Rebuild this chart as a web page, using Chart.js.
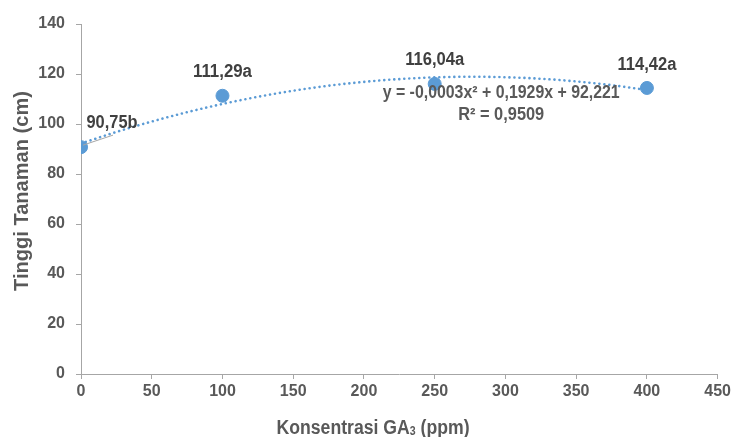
<!DOCTYPE html>
<html>
<head>
<meta charset="utf-8">
<script src="https://cdn.jsdelivr.net/npm/chart.js@4/dist/chart.umd.min.js"></script>
<style>
html,body{margin:0;padding:0;background:#fff;}
#wrap{width:734px;height:437px;position:relative;}
</style>
</head>
<body>
<div id="wrap"><canvas id="c" width="734" height="437"></canvas></div>
<script>
// Data
const concentrations = [0, 100, 250, 400];
const heights = [90.75, 111.29, 116.04, 114.42];
const pointLabels = ["90,75b", "111,29a", "116,04a", "114,42a"];
const trendX = [0,25,50,75,100,125,150,175,200,225,250,275,300,325,350,375,400];
const trendY = [92.22,96.82,100.99,104.73,108.02,110.88,113.31,115.30,116.85,117.97,118.65,118.90,118.71,118.09,117.03,115.53,113.60];
const xTicks = [0,50,100,150,200,250,300,350,400,450];
const yTicks = [0,20,40,60,80,100,120,140];
const equationText = "y = -0,0003x\u00B2 + 0,1929x + 92,221";
const r2Text = "R\u00B2 = 0,9509";
const yTitle = "Tinggi Tanaman (cm)";
const xTitleMain = "Konsentrasi GA";
const xTitleSub = "3";
const xTitleEnd = " (ppm)";

const FONT = '"Liberation Sans", Arial, sans-serif';
const AXIS_COLOR = '#a6a6a6';
const TEXT_COLOR = '#595959';
const BLUE = '#5b9bd5';

const labelOffsets = [[31,-24],[0,-24],[0,-23.5],[0,-23]];

// draw text horizontally compressed to a target width, centred at (cx, cy)
function fitText(ctx, text, cx, cy, px, targetW) {
  ctx.save();
  ctx.font = 'bold ' + px + 'px ' + FONT;
  const w = ctx.measureText(text).width;
  const s = targetW / w;
  ctx.translate(cx, cy);
  ctx.scale(s, 1);
  ctx.textAlign = 'center';
  ctx.textBaseline = 'middle';
  ctx.fillText(text, 0, 0);
  ctx.restore();
}

const overlay = {
  id: 'overlay',
  afterDatasetsDraw(chart) {
    const ctx = chart.ctx;
    const xs = chart.scales.x, ys = chart.scales.y;
    ctx.save();
    concentrations.forEach((c, i) => {
      const px = xs.getPixelForValue(c), py = ys.getPixelForValue(heights[i]);
      const [dx, dy] = labelOffsets[i];
      if (i === 0) {
        ctx.strokeStyle = '#a6a6a6';
        ctx.lineWidth = 1;
        ctx.beginPath();
        ctx.moveTo(px + 2, py - 2);
        ctx.lineTo(px + 32, py - 12);
        ctx.stroke();
      }
      ctx.fillStyle = '#404040';
      fitText(ctx, pointLabels[i], px + dx, py + dy, 18, pointLabels[i].length === 6 ? 51 : 59);
    });
    ctx.fillStyle = TEXT_COLOR;
    const ex = xs.getPixelForValue(297), ey = ys.getPixelForValue(112.2);
    fitText(ctx, equationText, ex, ey, 18, 237);
    fitText(ctx, r2Text, ex, ey + 22, 18, 86);
    ctx.restore();
  },
  afterDraw(chart) {
    const ctx = chart.ctx;
    ctx.save();
    ctx.fillStyle = TEXT_COLOR;
    // y title
    ctx.save();
    ctx.translate(22, 191);
    ctx.rotate(-Math.PI / 2);
    fitText(ctx, yTitle, 0, 0, 20, 200);
    ctx.restore();
    // x title with subscript (compressed)
    const big = 'bold 20px ' + FONT, small = 'bold 12px ' + FONT;
    ctx.font = big; const w1 = ctx.measureText(xTitleMain).width; const w3 = ctx.measureText(xTitleEnd).width;
    ctx.font = small; const w2 = ctx.measureText(xTitleSub).width;
    const total = w1 + w2 + w3;
    const s = 193 / total;
    ctx.translate(373 - 193 / 2, 434);
    ctx.scale(s, 1);
    ctx.textAlign = 'left';
    ctx.textBaseline = 'alphabetic';
    let x = 0;
    ctx.font = big; ctx.fillText(xTitleMain, x, 0); x += w1;
    ctx.font = small; ctx.fillText(xTitleSub, x, 1); x += w2;
    ctx.font = big; ctx.fillText(xTitleEnd, x, 0);
    ctx.restore();
  }
};

new Chart(document.getElementById('c'), {
  type: 'scatter',
  data: {
    datasets: [
      {
        label: 'Tinggi',
        data: concentrations.map((c, i) => ({x: c, y: heights[i]})),
        backgroundColor: BLUE,
        borderColor: BLUE,
        pointRadius: 6.5,
        pointHoverRadius: 6.5,
        order: 1
      },
      {
        label: 'Trend',
        type: 'line',
        data: trendX.map((c, i) => ({x: c, y: trendY[i]})),
        borderColor: BLUE,
        borderWidth: 2.6,
        borderDash: [0.01, 5],
        borderCapStyle: 'round',
        pointRadius: 0,
        fill: false,
        cubicInterpolationMode: 'monotone',
        order: 2
      }
    ]
  },
  options: {
    responsive: false,
    animation: false,
    events: [],
    layout: {padding: {top: 24, right: 16, left: 0, bottom: 0}},
    plugins: {legend: {display: false}, tooltip: {enabled: false}},
    scales: {
      x: {
        type: 'linear', min: 0, max: 450,
        afterBuildTicks(s) { s.ticks = xTicks.map(v => ({value: v})); },
        afterFit(s) { s.height = 63; },
        grid: {drawOnChartArea: false, drawTicks: true, tickLength: 5, color: AXIS_COLOR},
        border: {color: AXIS_COLOR, width: 1},
        ticks: {font: {family: FONT, size: 16, weight: 'bold'}, color: TEXT_COLOR, padding: 3, maxRotation: 0}
      },
      y: {
        type: 'linear', min: 0, max: 140,
        afterBuildTicks(s) { s.ticks = yTicks.map(v => ({value: v})); },
        afterFit(s) { s.width = 81; },
        grid: {drawOnChartArea: false, drawTicks: true, tickLength: 5, color: AXIS_COLOR},
        border: {color: AXIS_COLOR, width: 1},
        ticks: {font: {family: FONT, size: 16, weight: 'bold'}, color: TEXT_COLOR, padding: 11}
      }
    }
  },
  plugins: [overlay]
});
</script>
</body>
</html>
